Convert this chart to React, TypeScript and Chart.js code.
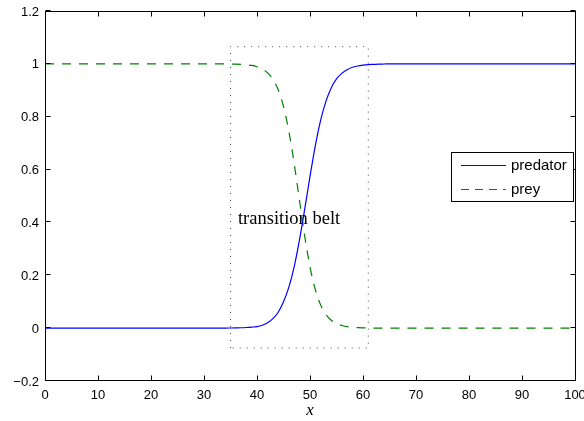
import React, { useEffect, useRef } from 'react';
import { Chart, registerables } from 'chart.js';

Chart.register(...registerables);

// ---- data ----
const xValues = [0, 10, 20, 30, 34, 35, 36, 37, 38, 39, 40, 41, 42, 43, 44, 45, 46, 47, 48, 49, 50, 51, 52, 53, 54, 55, 56, 57, 58, 59, 60, 61, 62, 63, 64, 65, 66, 70, 80, 90, 100];
const predatorValues = [0, 0, 0, 0, 0.0003, 0.0006, 0.001, 0.0015, 0.0025, 0.004, 0.006, 0.011, 0.02, 0.036, 0.06, 0.1, 0.154, 0.231, 0.332, 0.45, 0.574, 0.69, 0.786, 0.858, 0.909, 0.943, 0.964, 0.978, 0.987, 0.992, 0.995, 0.997, 0.998, 0.999, 0.9995, 1, 1, 1, 1, 1, 1];
const preyValues = [1, 1, 1, 1, 0.9998, 0.9994, 0.9989, 0.998, 0.9965, 0.994, 0.989, 0.981, 0.966, 0.942, 0.902, 0.839, 0.746, 0.625, 0.486, 0.348, 0.232, 0.146, 0.088, 0.052, 0.03, 0.017, 0.01, 0.0055, 0.003, 0.0018, 0.001, 0.0006, 0.0003, 0.0002, 0.0001, 0, 0, 0, 0, 0, 0];
const beltX = [35, 35, 61, 61, 35];
const beltY = [-0.075, 1.065, 1.065, -0.075, -0.075];
const xTicks = [0, 10, 20, 30, 40, 50, 60, 70, 80, 90, 100];
const xTickLabels = ['0', '10', '20', '30', '40', '50', '60', '70', '80', '90', '100'];
const yTicks = [-0.2, 0, 0.2, 0.4, 0.6, 0.8, 1, 1.2];
const yTickLabels = ['\u22120.2', '0', '0.2', '0.4', '0.6', '0.8', '1', '1.2'];
const seriesNames = ['predator', 'prey'];
const annotationText = 'transition belt';
const annotationAt = [36.4, 0.395];
const xTitle = 'x';

const BLUE = '#0000ff';
const GREEN = '#008000';
const DASH = [9, 8];
const LEGEND_DASH = [8, 6];

const framePlugin = {
  id: 'matlabFrame',
  afterDatasetsDraw(chart: any) {
    const { ctx, chartArea: a, scales } = chart;
    const xs = scales.x;
    const ys = scales.y;
    const L = a.left + 0.5;
    const R = a.right + 0.5;
    const T = a.top + 0.5;
    const B = a.bottom - 0.5;
    ctx.save();
    ctx.strokeStyle = '#000';
    ctx.lineWidth = 1;
    ctx.setLineDash([]);
    ctx.strokeRect(L, T, R - L, B - T);
    const tl = 5;
    ctx.beginPath();
    xTicks.forEach((v) => {
      const px = Math.round(xs.getPixelForValue(v)) + 0.5;
      ctx.moveTo(px, B);
      ctx.lineTo(px, B - tl);
      ctx.moveTo(px, T);
      ctx.lineTo(px, T + tl);
    });
    yTicks.forEach((v) => {
      const py = Math.round(ys.getPixelForValue(v)) - 0.5;
      ctx.moveTo(L, py);
      ctx.lineTo(L + tl, py);
      ctx.moveTo(R, py);
      ctx.lineTo(R - tl, py);
    });
    ctx.stroke();

    // tick labels
    ctx.fillStyle = '#000';
    ctx.font = '13px "Liberation Sans", Arial, sans-serif';
    ctx.textAlign = 'center';
    ctx.textBaseline = 'alphabetic';
    xTicks.forEach((v, i) => {
      const px = xs.getPixelForValue(v);
      ctx.fillText(xTickLabels[i], px, a.bottom + 18);
    });
    ctx.textAlign = 'right';
    yTicks.forEach((v, i) => {
      const py = ys.getPixelForValue(v);
      ctx.fillText(yTickLabels[i], a.left - 6, py + 4.5);
    });

    // x title
    ctx.font = 'italic 17px "Liberation Serif", "Times New Roman", serif';
    ctx.textAlign = 'center';
    ctx.fillText(xTitle, (a.left + a.right) / 2, a.bottom + 34);

    // annotation
    ctx.font = '18.5px "Liberation Serif", "Times New Roman", serif';
    ctx.textAlign = 'left';
    ctx.fillText(annotationText, xs.getPixelForValue(annotationAt[0]), ys.getPixelForValue(annotationAt[1]));

    // legend
    const lx = 451.5, ly = 152.5, lw = 122, lh = 49;
    ctx.fillStyle = '#fff';
    ctx.fillRect(lx, ly, lw, lh);
    ctx.strokeStyle = '#000';
    ctx.strokeRect(lx, ly, lw, lh);
    const rows = [165, 189];
    const colors = [BLUE, GREEN];
    const dashes = [[], LEGEND_DASH];
    ctx.font = '15px "Liberation Sans", Arial, sans-serif';
    ctx.textBaseline = 'middle';
    rows.forEach((ry, i) => {
      ctx.strokeStyle = colors[i];
      ctx.setLineDash(dashes[i]);
      ctx.beginPath();
      ctx.moveTo(461, ry + 0.5);
      ctx.lineTo(506, ry + 0.5);
      ctx.stroke();
      ctx.setLineDash([]);
      ctx.fillStyle = '#000';
      ctx.fillText(seriesNames[i], 511, ry + 1);
    });
    ctx.restore();
  },
};

export default function App() {
  const ref = useRef<HTMLCanvasElement | null>(null);
  useEffect(() => {
    if (!ref.current) return;
    const chart = new Chart(ref.current, {
      type: 'line',
      data: {
        datasets: [
          {
            label: seriesNames[0],
            data: xValues.map((x, i) => ({ x, y: predatorValues[i] })),
            borderColor: BLUE,
            borderWidth: 1.2,
            pointRadius: 0,
            cubicInterpolationMode: 'monotone',
            fill: false,
          },
          {
            label: seriesNames[1],
            data: xValues.map((x, i) => ({ x, y: preyValues[i] })),
            borderColor: GREEN,
            borderWidth: 1.2,
            borderDash: DASH,
            pointRadius: 0,
            cubicInterpolationMode: 'monotone',
            fill: false,
          },
          {
            label: 'belt',
            data: beltX.map((x, i) => ({ x, y: beltY[i] })),
            borderColor: 'rgba(0,0,0,0.75)',
            borderWidth: 1,
            borderDash: [1, 6],
            pointRadius: 0,
            tension: 0,
            fill: false,
          },
        ],
      },
      options: {
        animation: false,
        responsive: false,
        devicePixelRatio: 1,
        layout: { padding: { left: 45, right: 9, top: 11, bottom: 40 } },
        plugins: { legend: { display: false }, tooltip: { enabled: false } },
        scales: {
          x: { type: 'linear', min: 0, max: 100, display: false },
          y: { type: 'linear', min: -0.2, max: 1.2, display: false },
        },
      },
      plugins: [framePlugin],
    });
    return () => chart.destroy();
  }, []);
  return (
    <div style={{ position: 'absolute', left: 0, top: 0, width: 584, height: 421, background: '#fff' }}>
      <canvas ref={ref} width={584} height={421} style={{ display: 'block' }} />
    </div>
  );
}
